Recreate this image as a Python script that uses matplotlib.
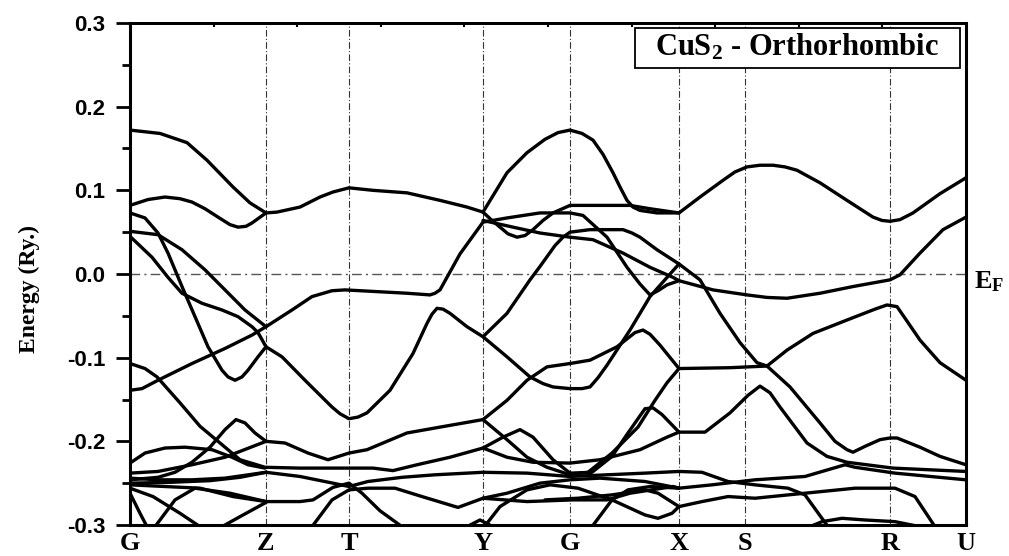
import matplotlib.pyplot as plt
import matplotlib.transforms as mtransforms
import numpy as np
from matplotlib.patches import Rectangle

plt.rcParams['mathtext.fontset'] = 'custom'
plt.rcParams['mathtext.rm'] = 'Liberation Serif:bold'
plt.rcParams['mathtext.bf'] = 'Liberation Serif:bold'
plt.rcParams['mathtext.it'] = 'Liberation Serif:bold'
plt.rcParams['axes.unicode_minus'] = False

# high symmetry points along the k-path (arbitrary path units)
hs_labels = ['G', 'Z', 'T', 'Y', 'G', 'X', 'S', 'R', 'U']
hs_k = [0, 136, 219, 353, 440, 549, 615, 760, 836]

# bands: (k, E in Ry)
b_top = [(0, 0.172), (30, 0.168), (57, 0.157), (77, 0.136), (103, 0.104), (120, 0.085), (136, 0.073),
         (147, 0.074), (170, 0.080), (190, 0.092), (203, 0.098), (219, 0.103), (243, 0.100), (277, 0.097),
         (310, 0.088), (337, 0.080), (353, 0.074), (377, 0.121), (397, 0.145), (415, 0.161), (428, 0.169),
         (440, 0.172), (452, 0.168), (463, 0.160), (473, 0.143), (483, 0.121), (490, 0.104), (497, 0.088),
         (503, 0.080), (510, 0.076), (527, 0.073), (549, 0.073), (570, 0.092), (593, 0.112),
         (605, 0.122), (617, 0.128), (630, 0.130), (643, 0.130), (655, 0.128), (667, 0.124), (690, 0.109),
         (717, 0.088), (743, 0.068), (752, 0.064), (760, 0.063), (770, 0.065), (783, 0.073), (810, 0.096),
         (836, 0.115)]
b_gz_dip = [(0, 0.082), (18, 0.089), (35, 0.092), (50, 0.090), (62, 0.086), (75, 0.078), (88, 0.068),
            (100, 0.059), (108, 0.056), (116, 0.057), (122, 0.061), (136, 0.073)]
b_yx_dip = [(353, 0.074), (362, 0.064), (370, 0.056), (378, 0.048), (387, 0.044), (395, 0.046), (403, 0.053),
            (413, 0.064), (423, 0.073), (440, 0.082), (470, 0.082), (500, 0.082), (520, 0.078), (549, 0.073)]
b_tmin = [(0, 0.073), (15, 0.067), (28, 0.049), (38, 0.025), (52, -0.015), (65, -0.051), (78, -0.087),
          (92, -0.115), (98, -0.123), (105, -0.127), (112, -0.123), (118, -0.115), (128, -0.099),
          (136, -0.087), (152, -0.099), (175, -0.127), (202, -0.159), (210, -0.167), (219, -0.173),
          (228, -0.171), (237, -0.166), (260, -0.139), (283, -0.095), (297, -0.059), (302, -0.048),
          (307, -0.041), (313, -0.042), (320, -0.047), (337, -0.063), (353, -0.075), (377, -0.047),
          (400, -0.007), (410, 0.009), (425, 0.034), (433, 0.044), (440, 0.050), (460, 0.053), (493, 0.053),
          (502, 0.049), (510, 0.044), (527, 0.029), (549, 0.012)]
b_ygx = [(353, -0.075), (377, -0.099), (400, -0.123), (413, -0.131), (423, -0.135), (440, -0.137),
         (452, -0.137), (460, -0.135), (468, -0.124), (477, -0.109), (500, -0.067), (520, -0.027),
         (549, 0.012), (570, -0.007), (590, -0.047), (610, -0.082), (627, -0.106), (637, -0.110),
         (660, -0.135), (690, -0.178), (705, -0.200), (717, -0.210), (723, -0.213), (735, -0.206),
         (750, -0.198), (760, -0.196), (767, -0.196), (790, -0.207), (810, -0.218), (836, -0.228)]
b_xs_flat = [(549, -0.113), (600, -0.112), (637, -0.110), (657, -0.091), (683, -0.071), (717, -0.055),
             (745, -0.042), (757, -0.037), (767, -0.039), (778, -0.058), (790, -0.079), (810, -0.106),
             (836, -0.127)]
b_ef = [(0, 0.051), (28, 0.047), (52, 0.029), (75, 0.005), (95, -0.019), (115, -0.043), (136, -0.063),
        (162, -0.043), (182, -0.027), (202, -0.020), (215, -0.019), (277, -0.023), (300, -0.025),
        (305, -0.023), (310, -0.019), (330, 0.024), (353, 0.062), (377, 0.067), (410, 0.073), (440, 0.073),
        (453, 0.070), (477, 0.044), (497, 0.008), (510, -0.012), (520, -0.025), (528, -0.020),
        (537, -0.013), (549, -0.008), (583, -0.019), (617, -0.025), (637, -0.028), (657, -0.029),
        (690, -0.023), (723, -0.015), (760, -0.007), (770, -0.001), (790, 0.025), (813, 0.053), (836, 0.068)]
b_gz_2 = [(0, 0.045), (22, 0.020), (38, -0.004), (52, -0.023), (72, -0.035), (92, -0.043), (108, -0.051),
          (122, -0.063), (128, -0.070), (136, -0.087)]
b_gz_rise = [(0, -0.139), (12, -0.137), (28, -0.127), (62, -0.107), (95, -0.089), (122, -0.073), (136, -0.063)]
b_ygx_2 = [(353, 0.064), (383, 0.056), (410, 0.049), (440, 0.044), (463, 0.041), (493, 0.025),
           (520, 0.008), (543, -0.004), (549, -0.008)]
b_low1 = [(0, -0.107), (15, -0.113), (27, -0.123), (50, -0.154), (70, -0.182), (90, -0.202), (110, -0.222),
          (135, -0.231), (170, -0.232), (219, -0.232), (243, -0.232), (263, -0.235), (287, -0.228),
          (320, -0.219), (353, -0.208), (373, -0.195), (390, -0.186), (403, -0.195), (423, -0.222),
          (440, -0.238), (462, -0.237), (482, -0.218), (498, -0.190), (515, -0.161), (523, -0.160),
          (532, -0.168), (549, -0.189), (575, -0.189), (600, -0.166), (618, -0.145), (630, -0.134),
          (640, -0.142), (650, -0.159), (677, -0.202), (697, -0.218), (717, -0.225), (763, -0.232),
          (836, -0.236)]
b_low2 = [(0, -0.226), (15, -0.214), (35, -0.208), (55, -0.207), (82, -0.210), (102, -0.219), (118, -0.228),
          (135, -0.232)]
b_low3 = [(0, -0.246), (28, -0.243), (45, -0.237), (62, -0.225), (80, -0.207), (95, -0.186), (106, -0.174),
          (115, -0.178), (125, -0.190), (136, -0.200), (155, -0.202), (178, -0.214), (198, -0.222),
          (219, -0.214), (237, -0.210), (277, -0.190), (310, -0.183), (353, -0.174), (377, -0.151),
          (397, -0.127), (417, -0.111), (440, -0.107), (460, -0.103), (487, -0.087), (505, -0.070),
          (513, -0.067), (520, -0.072), (530, -0.085), (549, -0.113)]
b_low4 = [(353, -0.174), (377, -0.198), (397, -0.219), (417, -0.231), (440, -0.240), (458, -0.237),
          (482, -0.214), (508, -0.183), (525, -0.151), (537, -0.130), (549, -0.113)]
b_low5 = [(353, -0.208), (377, -0.219), (403, -0.225), (440, -0.226), (470, -0.222), (510, -0.210),
          (537, -0.195), (549, -0.189)]
b_low6 = [(0, -0.238), (28, -0.236), (62, -0.228), (95, -0.219), (136, -0.200)]
b_low7 = [(0, -0.244), (28, -0.246), (62, -0.246), (95, -0.244), (136, -0.237), (170, -0.242), (203, -0.250),
          (219, -0.254), (238, -0.248), (272, -0.243), (305, -0.240), (353, -0.237), (397, -0.238),
          (440, -0.242), (477, -0.240), (515, -0.238), (549, -0.236), (572, -0.237), (598, -0.248),
          (625, -0.252), (658, -0.256), (675, -0.264), (698, -0.302)]
b_low8 = [(0, -0.250), (40, -0.249), (80, -0.247), (110, -0.243), (136, -0.237)]
b_low9 = [(0, -0.252), (35, -0.254), (70, -0.256), (103, -0.266), (136, -0.272), (170, -0.272),
          (183, -0.270), (203, -0.255), (219, -0.250), (232, -0.262), (250, -0.283), (272, -0.302)]
b_low10 = [(182, -0.302), (202, -0.270), (219, -0.258), (238, -0.256), (265, -0.256), (292, -0.266),
           (328, -0.279), (353, -0.268), (397, -0.272), (443, -0.270), (477, -0.270), (500, -0.262),
           (543, -0.254), (549, -0.256), (582, -0.252), (625, -0.246), (675, -0.242), (715, -0.228),
           (725, -0.231), (765, -0.238), (836, -0.246)]
b_low11 = [(353, -0.268), (377, -0.262), (410, -0.250), (440, -0.246), (470, -0.244), (515, -0.248),
           (549, -0.256)]
b_low12 = [(357, -0.298), (370, -0.278), (397, -0.258), (420, -0.252), (448, -0.256), (482, -0.270),
           (515, -0.288), (528, -0.292), (542, -0.286), (549, -0.278), (572, -0.272), (598, -0.266),
           (625, -0.268), (675, -0.262), (725, -0.256), (765, -0.256), (785, -0.266), (805, -0.302)]
b_low13 = [(415, -0.270), (448, -0.268), (482, -0.264), (515, -0.258), (528, -0.262), (549, -0.278)]
b_low14 = [(462, -0.302), (482, -0.270), (498, -0.258), (520, -0.254), (549, -0.256)]
b_v_rise = [(25, -0.302), (45, -0.270), (65, -0.256), (100, -0.262), (136, -0.272)]
b_g_down1 = [(0, -0.256), (23, -0.266), (50, -0.286), (70, -0.302)]
b_g_down2 = [(0, -0.262), (10, -0.286), (17, -0.302)]
b_z_rise = [(92, -0.302), (110, -0.290), (136, -0.273)]
b_y_bump = [(337, -0.302), (350, -0.294), (363, -0.302)]
b_r_bump = [(680, -0.302), (692, -0.296), (712, -0.292), (735, -0.294), (765, -0.296), (790, -0.302)]

bands = [b_top, b_gz_dip, b_yx_dip, b_tmin, b_ygx, b_xs_flat, b_ef, b_gz_2, b_gz_rise, b_ygx_2,
         b_low1, b_low2, b_low3, b_low4, b_low5, b_low6, b_low7, b_low8, b_low9, b_low10, b_low11,
         b_low12, b_low13, b_low14, b_v_rise, b_g_down1, b_g_down2, b_z_rise, b_y_bump, b_r_bump]

fig = plt.figure(figsize=(10.09, 5.56), dpi=100)
ax = fig.add_axes([130 / 1009, 31 / 556, 836 / 1009, 502 / 556])

for kx in hs_k[1:-1]:
    ax.axvline(kx, color='#333333', lw=0.8, ls=(0, (6, 2, 1, 2)), zorder=1)
ax.axhline(0, color='#555555', lw=1.0, ls=(0, (7, 3, 1.5, 3)), zorder=1)

for b in bands:
    k, e = zip(*b)
    ax.plot(k, e, color='black', lw=2.4, solid_joinstyle='round', solid_capstyle='round', zorder=3)

ax.set_xlim(0, 836)
ax.set_ylim(-0.3, 0.3)
ax.set_xticks(hs_k)
ax.set_xticklabels([])
ax.tick_params(axis='x', length=0)
# symmetry labels sit right under the axis, baseline near the figure bottom
lab_tr = mtransforms.blended_transform_factory(ax.transData, fig.transFigure)
for kx, lab in zip(hs_k, hs_labels):
    ax.text(kx, 6 / 556, lab, transform=lab_tr, ha='center', va='baseline',
            fontfamily='Liberation Serif', fontweight='bold', fontsize=19)

yt = [-0.3, -0.2, -0.1, 0.0, 0.1, 0.2, 0.3]
ax.set_yticks(yt)
ax.set_yticklabels(['%.1f' % v for v in yt], fontfamily='Liberation Sans', fontweight='bold', fontsize=16)
ax.set_yticks(np.arange(-0.25, 0.3, 0.1), minor=True)
ax.tick_params(axis='y', which='major', direction='out', length=10, width=2, pad=8)
ax.tick_params(axis='y', which='minor', direction='out', length=6, width=2)

top = ax.secondary_xaxis('top')
top.set_xticks(np.linspace(0, 836, 11))
top.set_xticklabels([])
top.tick_params(direction='in', length=3, width=1.5)
top.spines['top'].set_linewidth(2)

for s in ['left', 'bottom', 'right']:
    ax.spines[s].set_linewidth(2.2)
ax.spines['top'].set_linewidth(2)

ax.set_ylabel('Energy (Ry.)', fontfamily='Liberation Serif', fontweight='bold', fontsize=17)
ax.yaxis.set_label_coords(-0.108, 0.47)

ax.add_patch(Rectangle((0.604, 0.910), 0.389, 0.081, transform=ax.transAxes,
                       facecolor='white', edgecolor='black', lw=1.3, zorder=5))
ax.text(0.798, 0.951, 'CuS$_2$ - Orthorhombic', transform=ax.transAxes, ha='center', va='center',
        fontfamily='Liberation Serif', fontweight='bold', fontsize=22, zorder=6)

ax.text(1.01, 0.485, 'E$_\\mathregular{F}$', transform=ax.transAxes, ha='left', va='center',
        fontfamily='Liberation Serif', fontweight='bold', fontsize=19)

fig.savefig('out.png', dpi=100)
